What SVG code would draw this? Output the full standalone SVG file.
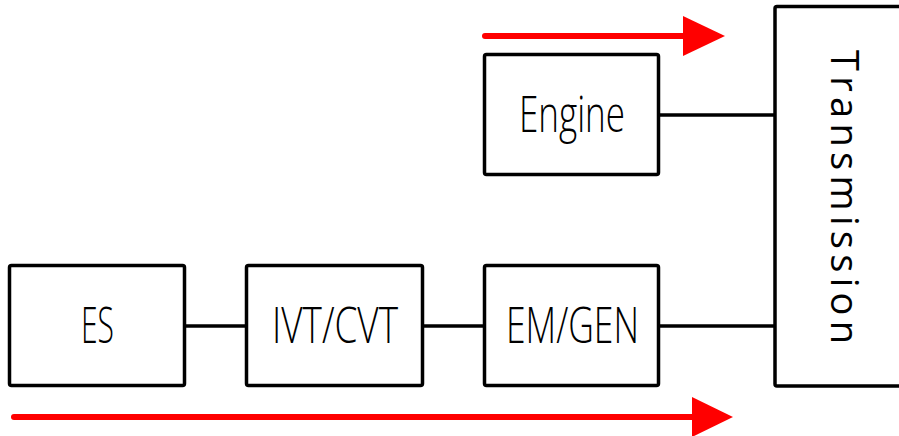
<svg xmlns="http://www.w3.org/2000/svg" width="899" height="436" viewBox="0 0 899 436">
  <defs>
    <style>
      .box { fill: #fff; stroke: #000; stroke-width: 3.5; stroke-linejoin: round; }
      .wire { stroke: #000; stroke-width: 3.5; fill: none; }
      .flow { stroke: #ff0000; stroke-width: 6; stroke-linecap: round; fill: none; }
      .head { fill: #ff0000; }
      .lbl { font-family: "Open Sans", "Noto Sans", "DejaVu Sans", sans-serif; font-size: 50px; font-weight: 300; fill: #000; }
      .tlbl { font-family: "Open Sans", "Noto Sans", "DejaVu Sans", sans-serif; font-size: 38px; font-weight: 400; fill: #000; }
    </style>
  </defs>
  <rect width="899" height="436" fill="#fff"/>

  <g id="connectors">
    <line class="wire" x1="659" y1="115" x2="774" y2="115"/>
    <line class="wire" x1="185" y1="326" x2="246" y2="326"/>
    <line class="wire" x1="423" y1="326" x2="484" y2="326"/>
    <line class="wire" x1="659" y1="326" x2="774" y2="326"/>
    <line class="flow" x1="485" y1="36" x2="688" y2="36"/>
    <polygon class="head" points="683,16 725,36 683,56"/>
    <line class="flow" x1="14" y1="417" x2="696" y2="417"/>
    <polygon class="head" points="692,397 733,417 692,437"/>
  </g>

  <g id="transmission">
    <rect class="box" x="775" y="6.5" width="140" height="379.5" rx="2"/>
    <text class="tlbl" transform="translate(831,50) rotate(90)" x="0" y="0" textLength="294" lengthAdjust="spacing">Transmission</text>
  </g>

  <g id="engine">
    <rect class="box" x="484.5" y="54.5" width="174" height="120" rx="2"/>
    <text class="lbl" x="519" y="132" textLength="106" lengthAdjust="spacingAndGlyphs">Engine</text>
  </g>

  <g id="es">
    <rect class="box" x="9.5" y="265.5" width="175" height="120" rx="2"/>
    <text class="lbl" x="81" y="343" textLength="33" lengthAdjust="spacingAndGlyphs">ES</text>
  </g>

  <g id="ivt-cvt">
    <rect class="box" x="246.5" y="265.5" width="176" height="120" rx="2"/>
    <text class="lbl" x="272" y="343" textLength="126" lengthAdjust="spacingAndGlyphs">IVT/CVT</text>
  </g>

  <g id="em-gen">
    <rect class="box" x="484.5" y="265.5" width="174" height="120" rx="2"/>
    <text class="lbl" x="506" y="343" textLength="133" lengthAdjust="spacingAndGlyphs">EM/GEN</text>
  </g>
</svg>
